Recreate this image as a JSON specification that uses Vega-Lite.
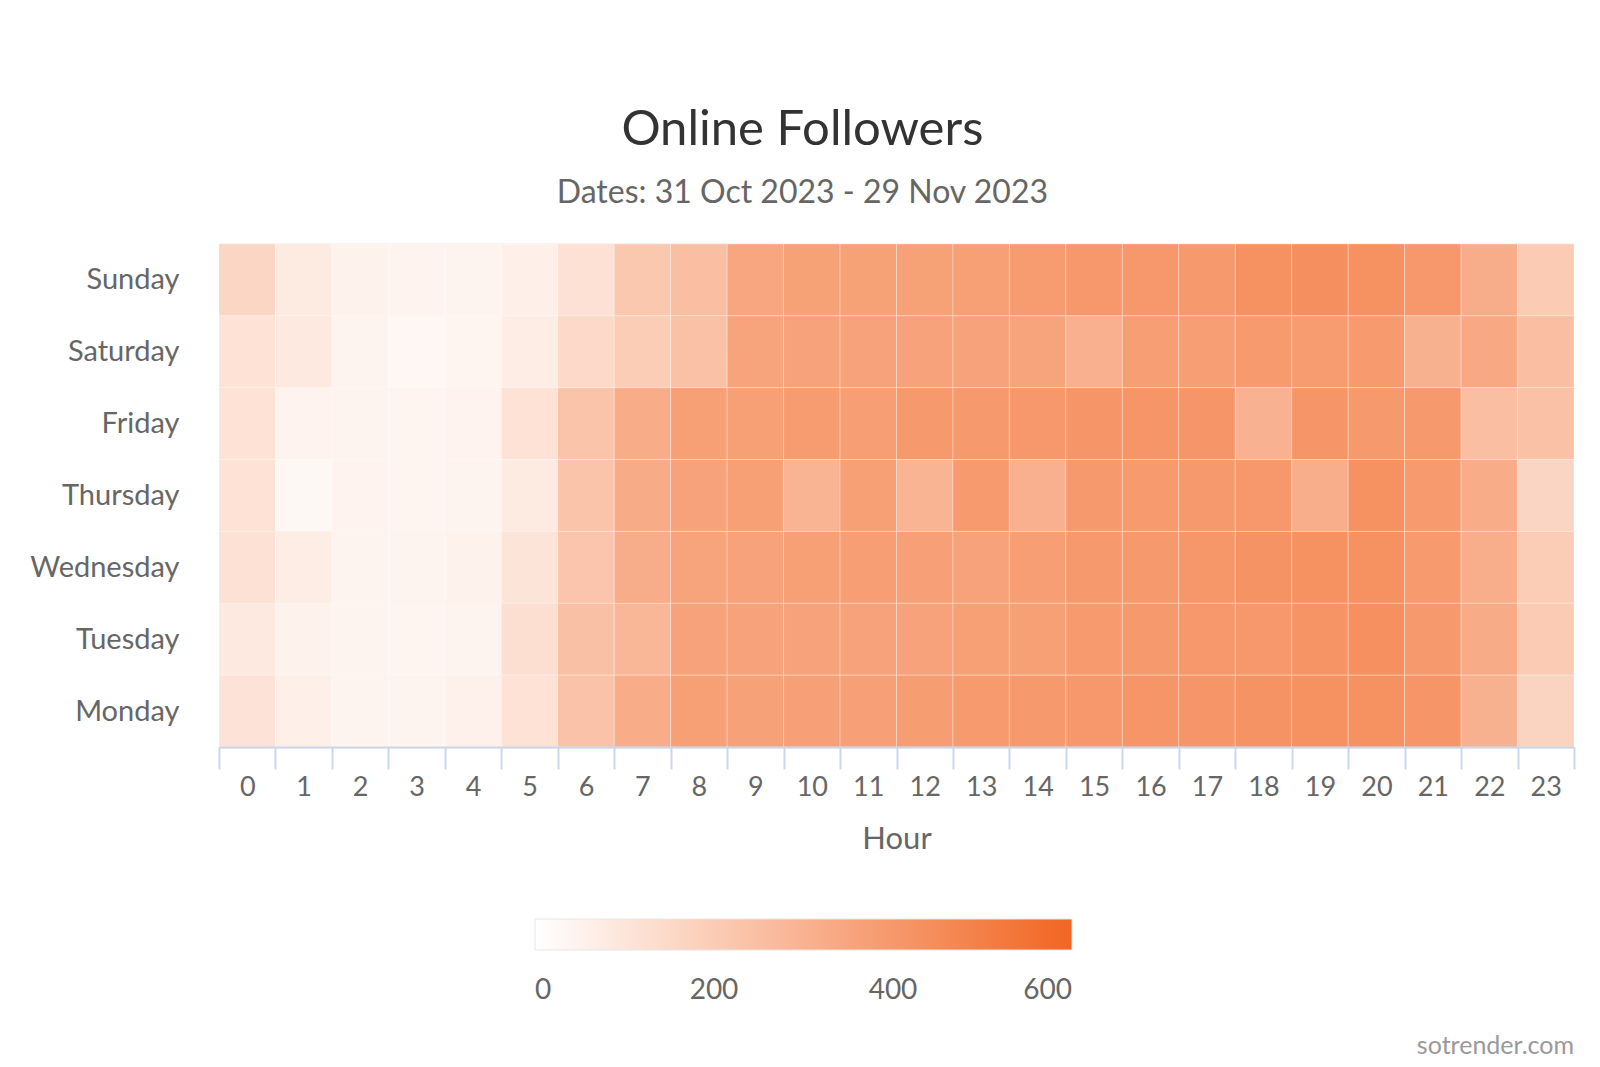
{
 "$schema": "https://vega.github.io/schema/vega-lite/v6.json",
 "background": "white",
 "padding": {"left": 29, "top": 106, "right": 27, "bottom": 10},
 "autosize": {"type": "pad"},
 "title": {"text": "Online Followers", "subtitle": "Dates: 31 Oct 2023 - 29 Nov 2023", "fontSize": 49, "subtitleFontSize": 32, "font": "Lato", "subtitleFont": "Lato", "color": "#333333", "subtitleColor": "#666666", "fontWeight": "normal", "subtitleFontWeight": "normal", "subtitlePadding": 23, "offset": 21, "anchor": "middle"},
 "datasets": {
  "cells": [
   {"day":"Sunday","hour":0,"value":160},{"day":"Sunday","hour":1,"value":78},{"day":"Sunday","hour":2,"value":50},{"day":"Sunday","hour":3,"value":47},{"day":"Sunday","hour":4,"value":44},{"day":"Sunday","hour":5,"value":59},{"day":"Sunday","hour":6,"value":117},{"day":"Sunday","hour":7,"value":218},{"day":"Sunday","hour":8,"value":253},{"day":"Sunday","hour":9,"value":346},{"day":"Sunday","hour":10,"value":368},{"day":"Sunday","hour":11,"value":368},{"day":"Sunday","hour":12,"value":368},{"day":"Sunday","hour":13,"value":371},{"day":"Sunday","hour":14,"value":386},{"day":"Sunday","hour":15,"value":400},{"day":"Sunday","hour":16,"value":400},{"day":"Sunday","hour":17,"value":395},{"day":"Sunday","hour":18,"value":425},{"day":"Sunday","hour":19,"value":435},{"day":"Sunday","hour":20,"value":430},{"day":"Sunday","hour":21,"value":400},{"day":"Sunday","hour":22,"value":319},{"day":"Sunday","hour":23,"value":203},
   {"day":"Saturday","hour":0,"value":113},{"day":"Saturday","hour":1,"value":86},{"day":"Saturday","hour":2,"value":43},{"day":"Saturday","hour":3,"value":32},{"day":"Saturday","hour":4,"value":39},{"day":"Saturday","hour":5,"value":70},{"day":"Saturday","hour":6,"value":148},{"day":"Saturday","hour":7,"value":195},{"day":"Saturday","hour":8,"value":241},{"day":"Saturday","hour":9,"value":355},{"day":"Saturday","hour":10,"value":362},{"day":"Saturday","hour":11,"value":362},{"day":"Saturday","hour":12,"value":362},{"day":"Saturday","hour":13,"value":362},{"day":"Saturday","hour":14,"value":356},{"day":"Saturday","hour":15,"value":307},{"day":"Saturday","hour":16,"value":376},{"day":"Saturday","hour":17,"value":378},{"day":"Saturday","hour":18,"value":390},{"day":"Saturday","hour":19,"value":386},{"day":"Saturday","hour":20,"value":390},{"day":"Saturday","hour":21,"value":303},{"day":"Saturday","hour":22,"value":335},{"day":"Saturday","hour":23,"value":253},
   {"day":"Friday","hour":0,"value":113},{"day":"Friday","hour":1,"value":46},{"day":"Friday","hour":2,"value":43},{"day":"Friday","hour":3,"value":39},{"day":"Friday","hour":4,"value":46},{"day":"Friday","hour":5,"value":113},{"day":"Friday","hour":6,"value":229},{"day":"Friday","hour":7,"value":323},{"day":"Friday","hour":8,"value":374},{"day":"Friday","hour":9,"value":374},{"day":"Friday","hour":10,"value":386},{"day":"Friday","hour":11,"value":378},{"day":"Friday","hour":12,"value":397},{"day":"Friday","hour":13,"value":393},{"day":"Friday","hour":14,"value":401},{"day":"Friday","hour":15,"value":413},{"day":"Friday","hour":16,"value":413},{"day":"Friday","hour":17,"value":413},{"day":"Friday","hour":18,"value":300},{"day":"Friday","hour":19,"value":413},{"day":"Friday","hour":20,"value":397},{"day":"Friday","hour":21,"value":393},{"day":"Friday","hour":22,"value":253},{"day":"Friday","hour":23,"value":241},
   {"day":"Thursday","hour":0,"value":113},{"day":"Thursday","hour":1,"value":28},{"day":"Thursday","hour":2,"value":46},{"day":"Thursday","hour":3,"value":39},{"day":"Thursday","hour":4,"value":43},{"day":"Thursday","hour":5,"value":82},{"day":"Thursday","hour":6,"value":229},{"day":"Thursday","hour":7,"value":327},{"day":"Thursday","hour":8,"value":362},{"day":"Thursday","hour":9,"value":374},{"day":"Thursday","hour":10,"value":293},{"day":"Thursday","hour":11,"value":374},{"day":"Thursday","hour":12,"value":293},{"day":"Thursday","hour":13,"value":390},{"day":"Thursday","hour":14,"value":307},{"day":"Thursday","hour":15,"value":393},{"day":"Thursday","hour":16,"value":390},{"day":"Thursday","hour":17,"value":393},{"day":"Thursday","hour":18,"value":401},{"day":"Thursday","hour":19,"value":315},{"day":"Thursday","hour":20,"value":425},{"day":"Thursday","hour":21,"value":390},{"day":"Thursday","hour":22,"value":323},{"day":"Thursday","hour":23,"value":164},
   {"day":"Wednesday","hour":0,"value":117},{"day":"Wednesday","hour":1,"value":70},{"day":"Wednesday","hour":2,"value":43},{"day":"Wednesday","hour":3,"value":43},{"day":"Wednesday","hour":4,"value":50},{"day":"Wednesday","hour":5,"value":105},{"day":"Wednesday","hour":6,"value":225},{"day":"Wednesday","hour":7,"value":319},{"day":"Wednesday","hour":8,"value":355},{"day":"Wednesday","hour":9,"value":362},{"day":"Wednesday","hour":10,"value":374},{"day":"Wednesday","hour":11,"value":378},{"day":"Wednesday","hour":12,"value":370},{"day":"Wednesday","hour":13,"value":362},{"day":"Wednesday","hour":14,"value":378},{"day":"Wednesday","hour":15,"value":397},{"day":"Wednesday","hour":16,"value":397},{"day":"Wednesday","hour":17,"value":405},{"day":"Wednesday","hour":18,"value":421},{"day":"Wednesday","hour":19,"value":425},{"day":"Wednesday","hour":20,"value":429},{"day":"Wednesday","hour":21,"value":390},{"day":"Wednesday","hour":22,"value":315},{"day":"Wednesday","hour":23,"value":195},
   {"day":"Tuesday","hour":0,"value":86},{"day":"Tuesday","hour":1,"value":50},{"day":"Tuesday","hour":2,"value":43},{"day":"Tuesday","hour":3,"value":39},{"day":"Tuesday","hour":4,"value":43},{"day":"Tuesday","hour":5,"value":125},{"day":"Tuesday","hour":6,"value":245},{"day":"Tuesday","hour":7,"value":281},{"day":"Tuesday","hour":8,"value":362},{"day":"Tuesday","hour":9,"value":362},{"day":"Tuesday","hour":10,"value":362},{"day":"Tuesday","hour":11,"value":362},{"day":"Tuesday","hour":12,"value":362},{"day":"Tuesday","hour":13,"value":374},{"day":"Tuesday","hour":14,"value":374},{"day":"Tuesday","hour":15,"value":390},{"day":"Tuesday","hour":16,"value":393},{"day":"Tuesday","hour":17,"value":401},{"day":"Tuesday","hour":18,"value":401},{"day":"Tuesday","hour":19,"value":417},{"day":"Tuesday","hour":20,"value":433},{"day":"Tuesday","hour":21,"value":393},{"day":"Tuesday","hour":22,"value":327},{"day":"Tuesday","hour":23,"value":203},
   {"day":"Monday","hour":0,"value":109},{"day":"Monday","hour":1,"value":62},{"day":"Monday","hour":2,"value":43},{"day":"Monday","hour":3,"value":43},{"day":"Monday","hour":4,"value":54},{"day":"Monday","hour":5,"value":113},{"day":"Monday","hour":6,"value":233},{"day":"Monday","hour":7,"value":323},{"day":"Monday","hour":8,"value":374},{"day":"Monday","hour":9,"value":366},{"day":"Monday","hour":10,"value":370},{"day":"Monday","hour":11,"value":370},{"day":"Monday","hour":12,"value":382},{"day":"Monday","hour":13,"value":390},{"day":"Monday","hour":14,"value":393},{"day":"Monday","hour":15,"value":401},{"day":"Monday","hour":16,"value":409},{"day":"Monday","hour":17,"value":409},{"day":"Monday","hour":18,"value":421},{"day":"Monday","hour":19,"value":429},{"day":"Monday","hour":20,"value":429},{"day":"Monday","hour":21,"value":413},{"day":"Monday","hour":22,"value":303},{"day":"Monday","hour":23,"value":168}
  ]
 },
 "vconcat": [
  {
   "width": 1355,
   "height": 503,
   "title": {"text": "sotrender.com", "orient": "bottom", "anchor": "end", "frame": "group", "fontSize": 25, "color": "#999999", "fontWeight": "normal", "font": "Lato", "offset": 180},
   "data": {"name": "cells"},
   "mark": {"type": "rect", "stroke": "white", "strokeWidth": 1, "strokeOpacity": 0.3},
   "encoding": {
    "x": {"field": "hour", "type": "ordinal", "sort": "ascending", "title": "Hour",
     "scale": {"paddingInner": 0, "paddingOuter": 0},
     "axis": {"labelAngle": 0, "labelFontSize": 27, "labelColor": "#666666", "labelFont": "Lato", "titleFontSize": 31, "titleColor": "#666666", "titleFontWeight": "normal", "titleFont": "Lato", "domainColor": "#ccd6eb", "domainWidth": 2, "tickColor": "#ccd6eb", "tickWidth": 2, "tickSize": 22, "tickBand": "extent", "labelPadding": 5, "titlePadding": 24, "grid": false}},
    "y": {"field": "day", "type": "nominal", "sort": ["Sunday", "Saturday", "Friday", "Thursday", "Wednesday", "Tuesday", "Monday"], "title": null,
     "scale": {"paddingInner": 0, "paddingOuter": 0},
     "axis": {"labelFontSize": 29, "labelColor": "#666666", "labelFont": "Lato", "ticks": false, "domain": false, "labelPadding": 40, "grid": true, "gridColor": "#e6e6e6", "gridWidth": 2, "tickBand": "extent", "zindex": 0}},
    "color": {"field": "value", "type": "quantitative",
     "scale": {"domain": [0, 600], "range": ["#ffffff", "#f26522"], "interpolate": "rgb"},
     "legend": {"orient": "none", "legendX": 316, "legendY": 675, "direction": "horizontal", "gradientLength": 537, "gradientThickness": 31, "title": null, "values": [0, 200, 400, 600], "labelFontSize": 28, "labelColor": "#666666", "labelFont": "Lato", "labelOffset": 27, "gradientStrokeColor": "#e6e6e6", "gradientStrokeWidth": 1}}
   }
  }
 ],
 "config": {"view": {"stroke": null}, "font": "Lato"}
}
